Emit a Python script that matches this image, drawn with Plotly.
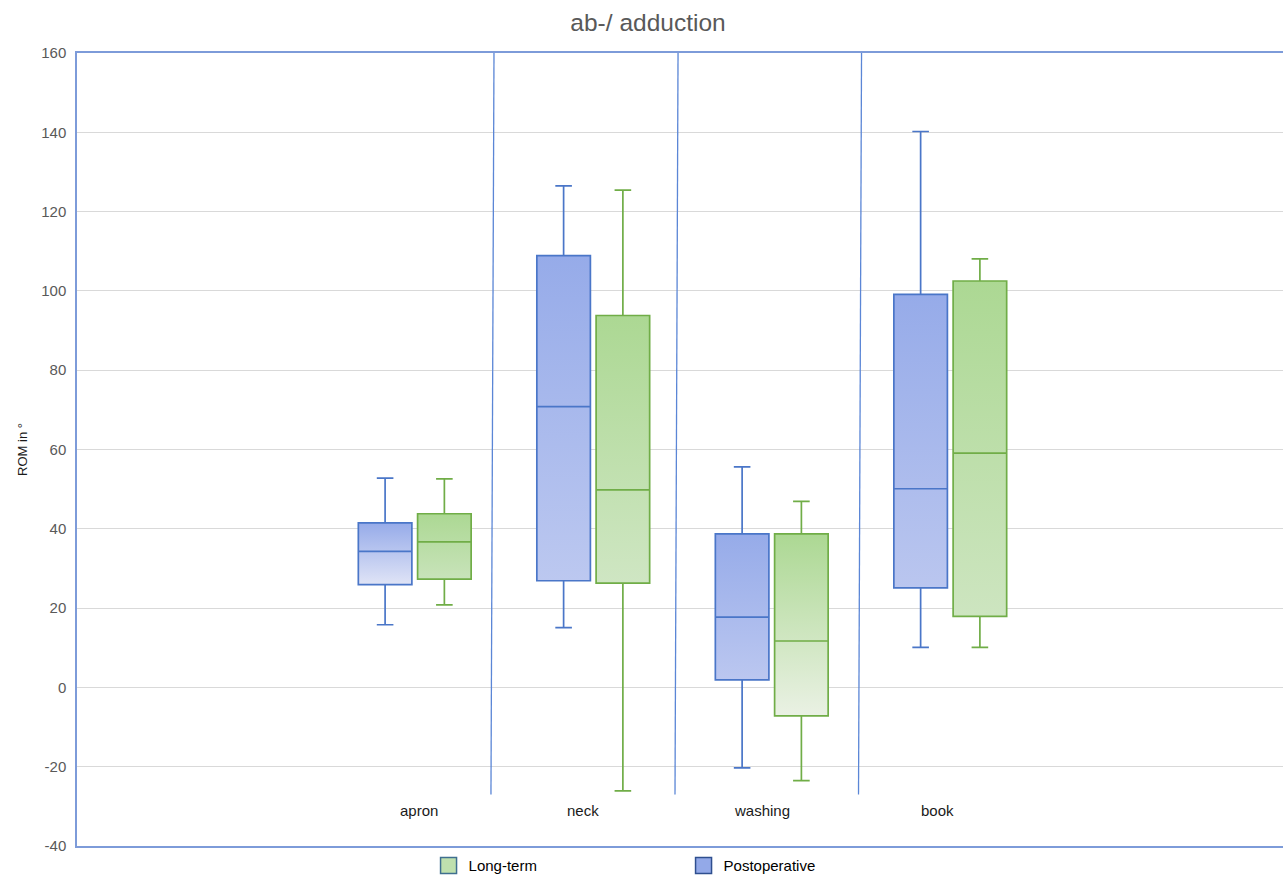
import plotly.graph_objects as go

# ---------------- data ----------------
categories = ["apron", "neck", "washing", "book"]

post_lower = [15.8, 15.1, -20.3, 10.1]
post_q1 = [25.9, 26.9, 1.9, 25.1]
post_median = [34.3, 70.8, 17.7, 50.1]
post_q3 = [41.5, 108.9, 38.7, 99.1]
post_upper = [52.8, 126.5, 55.6, 140.2]

long_lower = [20.8, -26.1, -23.5, 10.1]
long_q1 = [27.3, 26.3, -7.2, 17.9]
long_median = [36.7, 49.8, 11.7, 59.1]
long_q3 = [43.8, 93.8, 38.7, 102.5]
long_upper = [52.6, 125.4, 46.9, 108.1]

y_ticks = [-40, -20, 0, 20, 40, 60, 80, 100, 120, 140, 160]
y_tick_text = [str(v) for v in y_ticks]

# ---------------- style ----------------
BLUE_LINE = "#4A76C8"
GREEN_LINE = "#70AD47"
BLUE_TOP = "#96ABE9"
GREEN_TOP = "#ACD893"
blue_bottoms = ["#E0E4F6", "#BCC8F0", "#BBC7F0", "#BAC6EF"]
green_bottoms = ["#C8E3BA", "#CFE6C3", "#EAF1E4", "#CDE5C0"]

OFFSET = 0.166
BOX_W = 0.30
X_RANGE = [-1.892, 4.864]
Y_RANGE = [y_ticks[0], y_ticks[-1]]
label_x = [0.024, 0.943, 1.947, 2.928]
label_y = -31
sep_top = [0.444, 1.475, 2.503]
sep_bottom = [0.427, 1.458, 2.486]
sep_y_bottom = -27

FONT = "Liberation Sans, Arial, sans-serif"

fig = go.Figure()

idx = list(range(len(categories)))
post_x = [i - OFFSET for i in idx]
long_x = [i + OFFSET for i in idx]


def add_gradient_boxes(xs, q1s, q3s, top, bottoms):
    for xc, lo, hi, bot in zip(xs, q1s, q3s, bottoms):
        x0, x1 = xc - BOX_W / 2, xc + BOX_W / 2
        fig.add_trace(go.Scatter(
            x=[x0, x1, x1, x0, x0], y=[lo, lo, hi, hi, lo],
            mode="lines", line=dict(width=0), fill="toself",
            fillgradient=dict(type="vertical", colorscale=[[0, bot], [1, top]]),
            hoverinfo="skip", showlegend=False, xaxis="x", yaxis="y"))


add_gradient_boxes(post_x, post_q1, post_q3, BLUE_TOP, blue_bottoms)
add_gradient_boxes(long_x, long_q1, long_q3, GREEN_TOP, green_bottoms)

# box outlines, medians and whiskers on an overlaid subplot (drawn above the fills)
fig.add_trace(go.Box(
    x=post_x, q1=post_q1, median=post_median, q3=post_q3,
    lowerfence=post_lower, upperfence=post_upper,
    width=BOX_W, whiskerwidth=0.31, fillcolor="rgba(0,0,0,0)",
    line=dict(color=BLUE_LINE, width=1.7), name="Postoperative", showlegend=False,
    xaxis="x2", yaxis="y2"))
fig.add_trace(go.Box(
    x=long_x, q1=long_q1, median=long_median, q3=long_q3,
    lowerfence=long_lower, upperfence=long_upper,
    width=BOX_W, whiskerwidth=0.31, fillcolor="rgba(0,0,0,0)",
    line=dict(color=GREEN_LINE, width=1.7), name="Long-term", showlegend=False,
    xaxis="x2", yaxis="y2"))

# legend entries
fig.add_trace(go.Scatter(
    x=[None], y=[None], mode="markers", name="Long-term",
    marker=dict(symbol="square", size=16, color="#BFE0AE",
                line=dict(color="#3F6F8F", width=1.5))))
fig.add_trace(go.Scatter(
    x=[None], y=[None], mode="markers", name="Postoperative",
    marker=dict(symbol="square", size=16, color="#93A9E8",
                line=dict(color="#2F4F8F", width=1.5))))

# separators
for xt, xb in zip(sep_top, sep_bottom):
    fig.add_shape(type="line", xref="x", yref="y", x0=xt, x1=xb,
                  y0=y_ticks[-1], y1=sep_y_bottom,
                  line=dict(color="#5B86D6", width=1.3), layer="above")

# category labels
for xl, name in zip(label_x, categories):
    fig.add_annotation(x=xl, y=label_y, xref="x", yref="y", text=name,
                       showarrow=False, font=dict(size=15, color="#1A1A1A", family=FONT))

fig.update_layout(
    width=1283, height=878,
    margin=dict(l=77, r=0, t=53, b=32, autoexpand=False),
    paper_bgcolor="white", plot_bgcolor="white",
    font=dict(family=FONT, color="#595959"),
    boxmode="overlay",
    hovermode=False,
    title=dict(text="ab-/ adduction", x=648 / 1283, xref="container", xanchor="center",
               y=1 - 22 / 878, yref="container", yanchor="middle",
               font=dict(size=24.5, color="#595959", family=FONT)),
    xaxis=dict(range=X_RANGE, showticklabels=False, showgrid=False,
               zeroline=False, showline=True, mirror=True,
               linecolor="#7D9BD9", linewidth=1.5, ticks=""),
    yaxis=dict(range=Y_RANGE, tickvals=y_ticks, ticktext=y_tick_text,
               showgrid=True, gridcolor="#D9D9D9", gridwidth=1,
               zeroline=False, showline=True, linecolor="#7D9BD9", linewidth=1.5,
               ticks="", ticklabelstandoff=6,
               tickfont=dict(size=15, color="#595959"),
               title=dict(text="ROM in °", font=dict(size=13, color="#1A1A1A"), standoff=11)),
    xaxis2=dict(range=X_RANGE, overlaying="x", visible=False),
    yaxis2=dict(range=Y_RANGE, overlaying="y", visible=False),
    legend=dict(orientation="h", x=0.2915, xanchor="left", y=-0.004, yanchor="top",
                entrywidth=210, traceorder="normal",
                font=dict(size=15, color="#000000", family=FONT),
                bgcolor="rgba(0,0,0,0)"),
    showlegend=True,
)

fig.write_html(
    "out.html",
    config={"displayModeBar": False},
    post_script="document.body.style.margin='0';document.body.style.overflow='hidden';",
)
